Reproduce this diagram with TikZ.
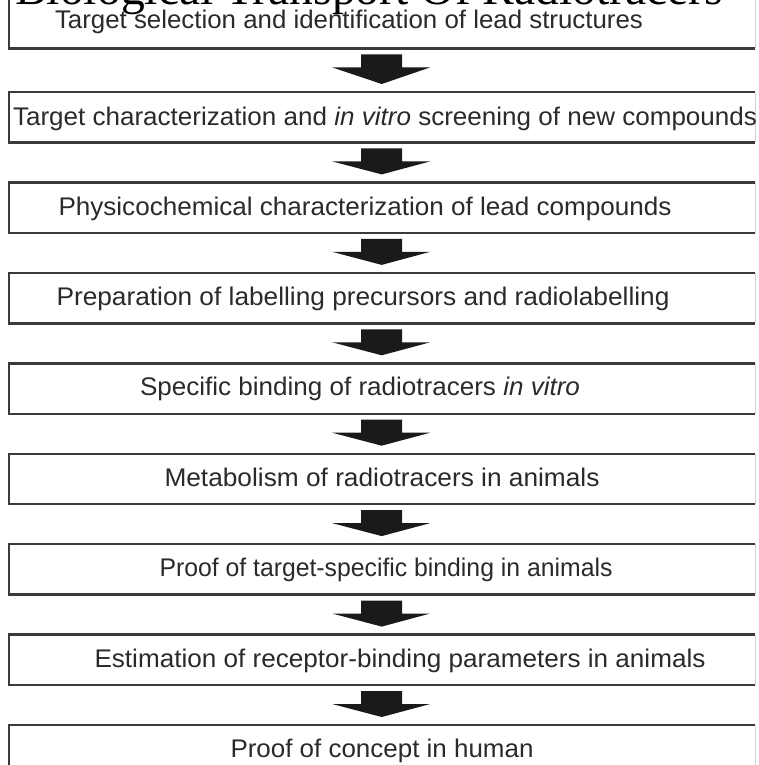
\documentclass[tikz,border=0pt]{standalone}
\usepackage{fontspec}
\setmainfont{Liberation Sans}
\newfontfamily\titlefont{Liberation Serif}
\usetikzlibrary{calc}
\newsavebox{\fitbox}
\newlength{\fitlen}
\newcommand{\fitw}[2]{\sbox{\fitbox}{#2}\setlength{\fitlen}{\wd\fitbox}\pgfmathsetmacro{\fitsc}{#1/\fitlen}\scalebox{\fitsc}[1]{\usebox{\fitbox}}}
\definecolor{boxline}{HTML}{3A3A3A}
\definecolor{txt}{HTML}{2A2A2A}
\definecolor{arrowfill}{HTML}{1A1A1A}
\begin{document}
\begin{tikzpicture}[x=1pt,y=-1pt,
  stepbox/.style={minimum width=746pt, minimum height=50pt, inner sep=0pt, draw=none, anchor=north west},
  steptext/.style={anchor=base, inner sep=0pt, text=txt, font=\fontsize{25.5}{28}\selectfont},
  flowarrow/.style={fill=arrowfill, draw=none}]
\useasboundingbox (0,0) rectangle (759,765);
\clip (0,0) rectangle (759,765);
\fill[white] (0,0) rectangle (759,765);

% boxes
\node[stepbox] (b1) at (9,-2) {};
\node[stepbox] (b2) at (9,92) {};
\node[stepbox] (b3) at (9,182.4) {};
\node[stepbox] (b4) at (9,272.9) {};
\node[stepbox] (b5) at (9,363.3) {};
\node[stepbox] (b6) at (9,453.7) {};
\node[stepbox] (b7) at (9,544.1) {};
\node[stepbox] (b8) at (9,634.6) {};
\node[stepbox] (b9) at (9,725) {};

\foreach \b in {b1,b2,b3,b4,b5,b6,b7,b8,b9}{
  \draw[boxline, line width=2.4pt] (\b.north east) -- (\b.north west) -- (\b.south west) -- (\b.south east);
  \draw[gray!35, line width=1pt] (\b.north east) -- (\b.south east);
}

% block arrows between boxes
\foreach \i/\j in {b1/b2,b2/b3,b3/b4,b4/b5,b5/b6,b6/b7,b7/b8,b8/b9}{
  \fill[flowarrow] ($(\i.south)+(-21,6)$) -- ($(\i.south)+(20,6)$) -- ($(\i.south)+(20,19)$)
    -- ($(\i.south)+(48,19)$) -- ($(\j.north)+(-0.5,-8)$) -- ($(\i.south)+(-50,19)$)
    -- ($(\i.south)+(-21,19)$) -- cycle;
}

% texts
\node[steptext] (t1) at (349,29) {\fitw{588}{Target selection and identification of lead structures}};
\node[steptext] (t2) at (385,125) {\fitw{744}{Target characterization and \textit{in vitro} screening of new compounds}};
\node[steptext] (t3) at (365,215) {\fitw{613}{Physicochemical characterization of lead compounds}};
\node[steptext] (t4) at (363,305) {\fitw{613}{Preparation of labelling precursors and radiolabelling}};
\node[steptext] (t5) at (360,395) {\fitw{440}{Specific binding of radiotracers \textit{in vitro}}};
\node[steptext] (t6) at (382,486) {\fitw{435}{Metabolism of radiotracers in animals}};
\node[steptext] (t7) at (386,576) {\fitw{453}{Proof of target-specific binding in animals}};
\node[steptext] (t8) at (400,667) {\fitw{611}{Estimation of receptor-binding parameters in animals}};
\node[steptext] (t9) at (382,757) {\fitw{303}{Proof of concept in human}};

% clipped title
\node[anchor=base west, inner sep=0pt] (title) at (15,5) {\resizebox{708pt}{!}{\titlefont Biological Transport Of Radiotracers}};
\end{tikzpicture}
\end{document}
